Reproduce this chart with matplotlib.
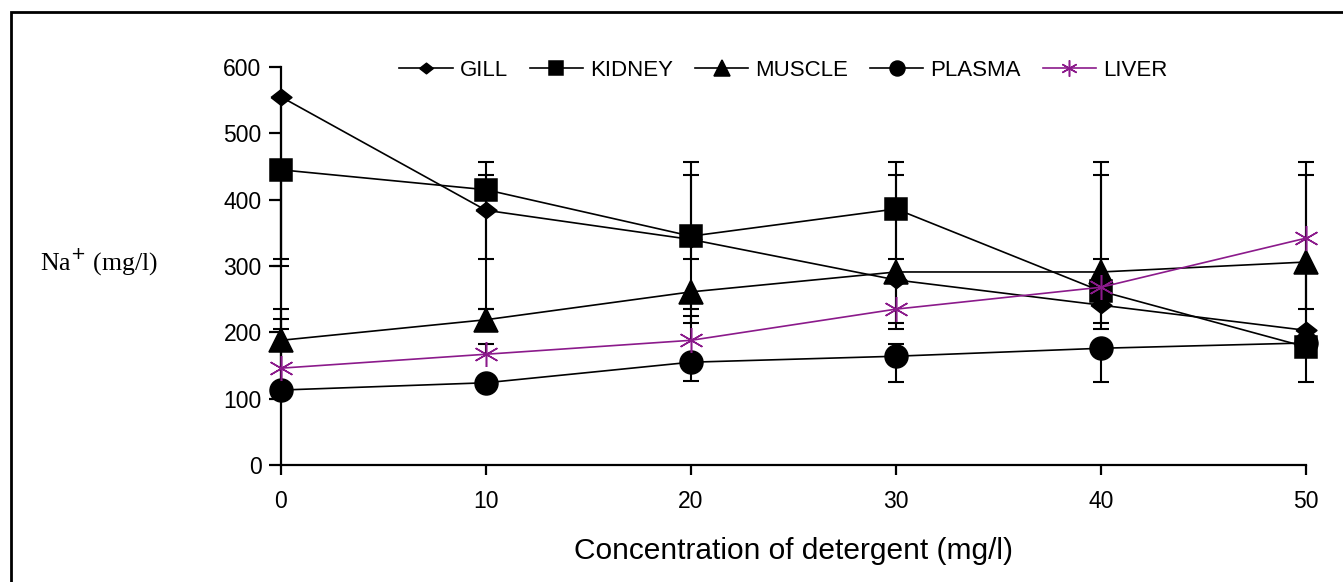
import numpy as np
import matplotlib
matplotlib.use('Agg')
import matplotlib.pyplot as plt
from matplotlib.patches import Rectangle

# concentration of detergent (mg/l)
conc = [0, 10, 20, 30, 40, 50]

# Na+ (mg/l) per tissue
gill = [555, 384, 340, 279, 241, 203]
kidney = [445, 415, 345, 386, 262, 178]
muscle = [188, 219, 261, 291, 291, 306]
plasma = [113, 124, 155, 164, 176, 184]
liver = [146, 167, 188, 235, 268, 342]

# error bar ends (nan = no bar on that side)
nan = np.nan
gill_lo = [300, 235, 235, 214, 214, nan]
gill_hi = [nan, 437, 437, 437, 437, 437]
kidney_lo = [311, 311, 311, 311, nan, 125]
kidney_hi = [nan, 457, 457, 457, 457, 457]
muscle_lo = [nan, nan, 214, 205, nan, 235]
muscle_hi = [235, 235, nan, nan, 311, nan]
plasma_lo = [nan, nan, 127, 125, 125, nan]
plasma_hi = [205, nan, nan, 182, nan, nan]
liver_lo = [nan, nan, nan, nan, 205, nan]
liver_hi = [220, 182, 225, nan, nan, nan]

series_names = ['GILL', 'KIDNEY', 'MUSCLE', 'PLASMA', 'LIVER']

plt.rcParams['font.family'] = ['Liberation Sans', 'DejaVu Sans']

fig = plt.figure(figsize=(13.43, 5.82), dpi=100)
ax = fig.add_axes([0.2092, 0.201, 0.7633, 0.6839])

# frame round the whole picture (right/bottom run off the image)
fig.patches.append(Rectangle((11 / 1343, -0.1), 1.2, 1.1 - 12 / 582,
                             transform=fig.transFigure, fill=False,
                             edgecolor='black', linewidth=2))

def draw_err(x, y, lo, hi, cap=0.37):
    x = np.array(x, float)
    y = np.array(y, float)
    for end in (np.array(lo, float), np.array(hi, float)):
        ok = ~np.isnan(end)
        ax.vlines(x[ok], y[ok], end[ok], color='black', lw=1.5, zorder=2, clip_on=False)
        ax.hlines(end[ok], x[ok] - cap, x[ok] + cap, color='black', lw=1.5, zorder=2, clip_on=False)

draw_err(conc, gill, gill_lo, gill_hi)
draw_err(conc, kidney, kidney_lo, kidney_hi)
draw_err(conc, muscle, muscle_lo, muscle_hi)
draw_err(conc, plasma, plasma_lo, plasma_hi)
draw_err(conc, liver, liver_lo, liver_hi)

wide_diamond = [(-1, 0), (0, 0.78), (1, 0), (0, -0.78), (-1, 0)]
styles = [
    (gill, wide_diamond, 15, 'black'),
    (kidney, 's', 15.5, 'black'),
    (muscle, '^', 17, 'black'),
    (plasma, 'o', 16.5, 'black'),
    (liver, (6, 2, 0), 18, '#8B1A8B'),
]
handles = []
for (vals, mk, ms, col), name in zip(styles, series_names):
    h, = ax.plot(conc, vals, marker=mk, markersize=ms, color=col, lw=1.2,
                 markeredgecolor=col, markerfacecolor=col, mew=1.1,
                 clip_on=False, zorder=3, label=name)
    handles.append(h)

ax.set_xlim(0, 50)
ax.set_ylim(0, 600)
ax.set_xticks(conc)
ax.set_yticks(range(0, 601, 100))
ax.spines['top'].set_visible(False)
ax.spines['right'].set_visible(False)
ax.spines['left'].set_linewidth(1.6)
ax.spines['bottom'].set_linewidth(1.6)
ax.tick_params(axis='y', direction='out', length=9, width=1.6, labelsize=16.5, pad=5)
ax.tick_params(axis='x', direction='out', length=7, width=1.6, labelsize=16.5, pad=11)

ax.set_xlabel('Concentration of detergent (mg/l)', fontsize=21.5, labelpad=17)
fig.text(40 / 1343, 1 - 262 / 582, 'Na$^{+}$ (mg/l)', family=['Liberation Serif', 'DejaVu Serif'],
         fontsize=18.5, va='center', ha='left')

leg = ax.legend(handles=handles, loc='lower center', bbox_to_anchor=(0.49, 0.965),
                ncol=5, frameon=False, fontsize=16, markerscale=0.65,
                handlelength=2.4, handletextpad=0.3, columnspacing=1.0,
                borderaxespad=0, borderpad=0)

fig.savefig('out.png', dpi=100)
